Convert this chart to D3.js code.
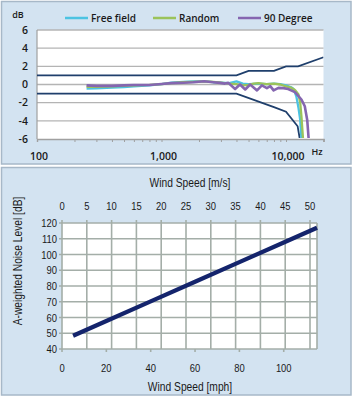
<!DOCTYPE html>
<html>
<head>
<meta charset="utf-8">
<script src="https://cdn.jsdelivr.net/npm/d3@7/dist/d3.min.js"></script>
<style>
  html, body { margin: 0; padding: 0; background: #ffffff; }
  svg { display: block; }
  .calib { font-family: "Open Sans", "Liberation Sans", sans-serif; fill: #1a1a1a; }
  .narrow { font-family: "Liberation Sans", Arial, sans-serif; fill: #1a1a1a; }
</style>
</head>
<body>
<div id="chart"></div>
<script>

// ---- Frequency response chart data (Hz, dB) ----
var freqTicks = [100, 1000, 10000];
var dbTicks = [-6, -4, -2, 0, 2, 4, 6];

var freeField = [[250,-0.45],[300,-0.42],[400,-0.35],[500,-0.28],[600,-0.2],[800,-0.1],[1000,0.05],
  [1200,0.2],[1500,0.3],[1800,0.35],[2200,0.35],[2600,0.25],[3000,0.2],[3500,0.15],[4000,0.35],
  [4500,0.1],[5000,0.05],[6000,0.1],[7000,0.05],[8000,0.1],[9000,0.05],[10000,-0.1],[11000,-0.3],
  [11500,-0.5],[12100,-1.3],[12600,-2.6],[13000,-3.9],[13300,-6]];

var random = [[250,-0.25],[300,-0.25],[400,-0.2],[500,-0.15],[600,-0.1],[800,-0.05],[1000,0.05],
  [1200,0.15],[1500,0.25],[1800,0.3],[2200,0.35],[2600,0.3],[3000,0.2],[3500,0.1],[4000,0.05],
  [4500,-0.1],[5000,-0.05],[5500,0.1],[6000,0.15],[7000,0.05],[8000,0.1],[9000,0],[10000,-0.2],
  [11000,-0.35],[11800,-0.6],[12600,-1.1],[13000,-2],[13300,-3.5],[13700,-6]];

var degree90 = [[250,-0.1],[300,-0.15],[400,-0.15],[500,-0.1],[600,-0.05],[800,-0.05],[1000,0.05],
  [1200,0.15],[1500,0.2],[1800,0.25],[2200,0.35],[2600,0.25],[2950,0.18],[3230,0.1],[3440,0.18],
  [3900,-0.5],[4270,0],[4700,-0.55],[5150,0],[5850,-0.65],[6400,-0.1],[7020,-0.4],[7470,-0.18],
  [7950,-0.65],[8700,-0.37],[9530,-0.4],[10400,-0.5],[11800,-0.84],[13300,-1.65],[14150,-2.4],
  [14800,-3.9],[15200,-6]];

var upperLimit = [[100,1],[4000,1],[5000,1.5],[8000,1.5],[10000,2],[12500,2],[20000,3]];
var lowerLimit = [[100,-1],[4000,-1],[8000,-2.5],[10000,-3],[12400,-4.6],[12900,-6]];

var seriesNames = ["Free field", "Random", "90 Degree"];
var seriesColors = ["#4cc3e2", "#9bc35a", "#8566b0"];

// ---- Wind noise chart data ----
var mphTicks = [0, 20, 40, 60, 80, 100];
var msTicks = [0, 5, 10, 15, 20, 25, 30, 35, 40, 45, 50];
var noiseTicks = [40, 50, 60, 70, 80, 90, 100, 110, 120];
var windMph = [5, 20, 40, 60, 80, 100, 115];
var noiseDb = [48.4, 57.8, 70.2, 82.7, 95.2, 107.6, 117];

var width = 353, height = 397;

var svg = d3.select("#chart").append("svg")
  .attr("width", width)
  .attr("height", height);

// Panel backgrounds.
svg.append("rect")
  .attr("x", 1.5).attr("y", 1.5).attr("width", 349.5).attr("height", 162.5)
  .attr("fill", "#d3e3f1").attr("stroke", "#a7b8c8").attr("stroke-width", 1.5);
svg.append("rect")
  .attr("x", 1.5).attr("y", 167.5).attr("width", 349.5).attr("height", 227.5)
  .attr("fill", "#d3e3f1").attr("stroke", "#a7b8c8").attr("stroke-width", 1.5);

// ================= Top chart: frequency response =================
var box1 = { left: 37, right: 323.5, top: 30, bottom: 139 };

var x = d3.scaleLog().domain([100, 20000]).range([box1.left, box1.right]),
    y = d3.scaleLinear().domain([-6, 6]).range([box1.bottom, box1.top]);

var g1 = svg.append("g");

g1.append("rect")
  .attr("x", box1.left).attr("y", box1.top)
  .attr("width", box1.right - box1.left).attr("height", box1.bottom - box1.top)
  .attr("fill", "#ffffff");

g1.append("clipPath").attr("id", "clipTop")
  .append("rect")
  .attr("x", box1.left).attr("y", box1.top - 2)
  .attr("width", box1.right - box1.left).attr("height", box1.bottom - box1.top + 1);

// Horizontal grid lines.
g1.append("g").selectAll("line")
  .data(dbTicks.slice(1))
  .enter().append("line")
    .attr("x1", box1.left).attr("x2", box1.right)
    .attr("y1", function(d){ return y(d); })
    .attr("y2", function(d){ return y(d); })
    .attr("stroke", "#b4b4b4").attr("stroke-width", 1.4);

// Bottom axis with minor log ticks.
var minorTicks = [];
[100, 1000, 10000].forEach(function(p){
  for (var m = 1; m < 10; m++) { if (m * p <= 20000) minorTicks.push(m * p); }
});
minorTicks.push(20000);

var xAxis = d3.axisBottom(x)
  .tickValues(minorTicks)
  .tickSize(3)
  .tickFormat("");
g1.append("g")
  .attr("transform", "translate(0," + box1.bottom + ")")
  .call(xAxis)
  .call(function(s){
    s.select(".domain").attr("stroke", "#a0a0a0").attr("stroke-width", 1.4);
    s.selectAll(".tick line").attr("stroke", "#a0a0a0");
  });

// Left axis line.
g1.append("line")
  .attr("x1", box1.left).attr("x2", box1.left)
  .attr("y1", box1.top).attr("y2", box1.bottom)
  .attr("stroke", "#a0a0a0").attr("stroke-width", 1.2);

// Y tick labels.
g1.append("g").selectAll("text")
  .data(dbTicks)
  .enter().append("text")
    .attr("class", "calib")
    .attr("x", 28)
    .attr("y", function(d){ return y(d); })
    .attr("dy", "0.35em")
    .attr("text-anchor", "end")
    .style("font-size", "10.5px")
    .style("font-weight", "600")
    .text(function(d){ return d; });

// X tick labels.
g1.append("g").selectAll("text")
  .data(freqTicks)
  .enter().append("text")
    .attr("class", "calib")
    .attr("x", function(d){ return x(d) + 2; })
    .attr("y", 160)
    .attr("text-anchor", "middle")
    .style("font-size", "10.5px")
    .style("font-weight", "600")
    .text(d3.format(","));

g1.append("text").attr("class", "calib")
  .attr("x", 317).attr("y", 155).attr("text-anchor", "middle")
  .style("font-size", "9px").style("font-weight", "600")
  .text("Hz");
g1.append("text").attr("class", "calib")
  .attr("x", 18).attr("y", 18).attr("text-anchor", "middle")
  .style("font-size", "9px").style("font-weight", "600")
  .text("dB");

var line = d3.line()
  .x(function(d){ return x(d[0]); })
  .y(function(d){ return y(d[1]); });

var plotLines = g1.append("g").attr("clip-path", "url(#clipTop)");

[upperLimit, lowerLimit].forEach(function(s){
  plotLines.append("path")
    .attr("d", line(s))
    .attr("fill", "none")
    .attr("stroke", "#1f3f6c")
    .attr("stroke-width", 1.8);
});

[freeField, random, degree90].forEach(function(s, i){
  plotLines.append("path")
    .attr("d", line(s))
    .attr("fill", "none")
    .attr("stroke", seriesColors[i])
    .attr("stroke-width", i === 2 ? 2.6 : 2.3)
    .attr("stroke-linejoin", "round");
});

// Legend.
var legendX = [65, 153, 238];
var legend = g1.append("g").selectAll("g")
  .data(seriesNames)
  .enter().append("g")
    .attr("transform", function(d, i){ return "translate(" + legendX[i] + ",18)"; });
legend.append("line")
  .attr("x1", 0).attr("x2", 23)
  .attr("stroke", function(d, i){ return seriesColors[i]; })
  .attr("stroke-width", 2.5);
legend.append("text")
  .attr("class", "calib")
  .attr("x", 26).attr("dy", "0.35em")
  .style("font-size", "10px")
  .style("font-weight", "600")
  .text(function(d){ return d; });

// ================= Bottom chart: wind noise =================
var box2 = { left: 62, right: 317, top: 223, bottom: 349 };

var xMph = d3.scaleLinear().domain([0, 115]).range([box2.left, box2.right]),
    xMs = d3.scaleLinear().domain([0, 115 * 0.44704]).range([box2.left, box2.right]),
    yDb = d3.scaleLinear().domain([40, 120]).range([box2.bottom, box2.top]);

var g2 = svg.append("g");

g2.append("rect")
  .attr("x", box2.left).attr("y", box2.top)
  .attr("width", box2.right - box2.left).attr("height", box2.bottom - box2.top)
  .attr("fill", "#ffffff");

var gridColor = "#a4aea8";

// Horizontal grid lines.
g2.append("g").selectAll("line")
  .data(noiseTicks)
  .enter().append("line")
    .attr("x1", box2.left - 3).attr("x2", box2.right)
    .attr("y1", function(d){ return yDb(d); })
    .attr("y2", function(d){ return yDb(d); })
    .attr("stroke", gridColor).attr("stroke-width", 1.6);

// Vertical grid lines on the m/s ticks.
g2.append("g").selectAll("line")
  .data(msTicks)
  .enter().append("line")
    .attr("x1", function(d){ return xMs(d); })
    .attr("x2", function(d){ return xMs(d); })
    .attr("y1", box2.top - 3).attr("y2", box2.bottom)
    .attr("stroke", gridColor).attr("stroke-width", 1.6);

// Right border of the plot area.
g2.append("line")
  .attr("x1", box2.right).attr("x2", box2.right)
  .attr("y1", box2.top).attr("y2", box2.bottom)
  .attr("stroke", gridColor).attr("stroke-width", 1.6);

// Bottom mph ticks.
g2.append("g").selectAll("line")
  .data(mphTicks)
  .enter().append("line")
    .attr("x1", function(d){ return xMph(d); })
    .attr("x2", function(d){ return xMph(d); })
    .attr("y1", box2.bottom).attr("y2", box2.bottom + 3)
    .attr("stroke", gridColor).attr("stroke-width", 1.6);

// Narrow text: no condensed face is installed, so squeeze horizontally.
var squeeze = 0.82;
function narrowText(sel, px, py, size, anchor, rotate){
  return sel.append("text")
    .attr("class", "narrow")
    .attr("transform", "translate(" + px + "," + py + ")" +
      (rotate ? " rotate(" + rotate + ")" : "") + " scale(" + squeeze + ",1)")
    .attr("text-anchor", anchor)
    .style("font-size", size + "px");
}

noiseTicks.forEach(function(d){
  narrowText(g2, 57, yDb(d), 11.5, "end").attr("dy", "0.35em").text(d);
});
msTicks.forEach(function(d){
  narrowText(g2, xMs(d), 210, 11.5, "middle").text(d);
});
mphTicks.forEach(function(d){
  narrowText(g2, xMph(d), 372, 11.5, "middle").text(d);
});

// Axis titles.
narrowText(g2, 190, 187, 12.5, "middle").text("Wind Speed [m/s]");
narrowText(g2, 190, 391, 12.5, "middle").text("Wind Speed [mph]");
narrowText(g2, 22, 261, 12.5, "middle", -90).text("A-weighted Noise Level [dB]");

// Noise line.
var noiseLine = d3.line()
  .x(function(d){ return xMph(d); })
  .y(function(d, i){ return yDb(noiseDb[i]); });

g2.append("path")
  .attr("d", noiseLine(windMph))
  .attr("fill", "none")
  .attr("stroke", "#14246c")
  .attr("stroke-width", 4.2);

</script>
</body>
</html>
